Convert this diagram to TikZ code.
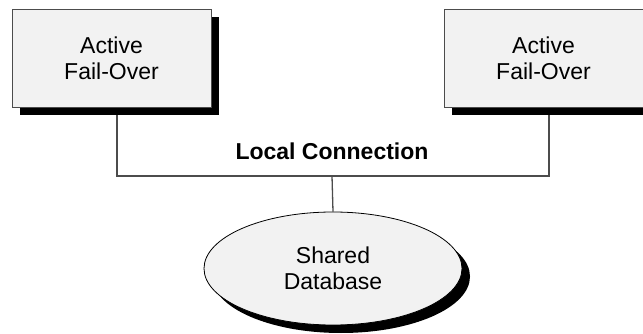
\documentclass[tikz,border=0pt]{standalone}
\usepackage{fontspec}
\setmainfont{Liberation Sans}
\usetikzlibrary{shadows,shapes.geometric,backgrounds}

\begin{document}
\begin{tikzpicture}[x=1pt,y=-1pt,
  server/.style={draw=black!70,line width=0.8pt,fill=black!5,
    minimum width=199pt,minimum height=98pt,align=center,
    font=\fontsize{23}{25.6}\selectfont,
    drop shadow={shadow xshift=8pt,shadow yshift=-8pt,fill=black,opacity=1}},
  dbase/.style={ellipse,draw=black,line width=0.8pt,fill=black!5,inner sep=0pt,
    minimum width=258pt,minimum height=113pt,align=center,
    font=\fontsize{23}{25.6}\selectfont,
    drop shadow={shadow xshift=8pt,shadow yshift=-8pt,fill=black,opacity=1}},
  wire/.style={draw=black!70,line width=1.3pt}]
\useasboundingbox (0,0) rectangle (643,334);
\node[server] (lbox) at (111.5,58) {Active\\Fail-Over};
\node[server] (rbox) at (543.5,58) {Active\\Fail-Over};
\node[dbase] (db) at (333,268.5) {Shared\\Database};
\coordinate (bus) at (332,176);
\node[font=\fontsize{23}{25.6}\selectfont\bfseries] (lconn) at (332,151.5) {Local Connection};
\begin{scope}[on background layer]
\draw[wire] ([xshift=5.5pt]lbox.south) |- (bus) -| ([xshift=5.5pt]rbox.south);
\draw[wire] (bus) -- (db.north);
\end{scope}
\end{tikzpicture}
\end{document}
